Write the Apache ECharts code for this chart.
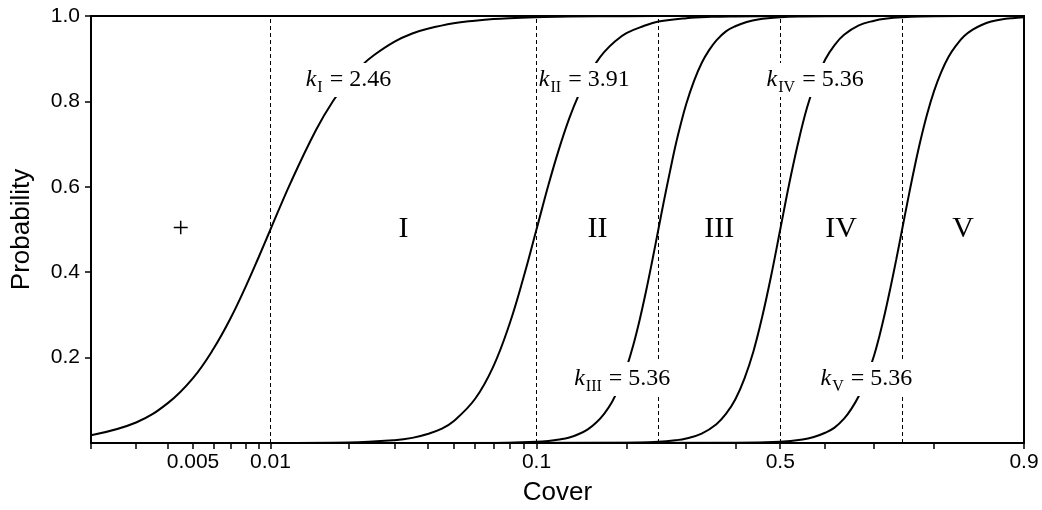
<!DOCTYPE html>
<html>
<head>
<meta charset="utf-8">
<title>Cover classes</title>
<script src="https://cdn.jsdelivr.net/npm/echarts@6/dist/echarts.min.js"></script>
<style>
  html, body { margin: 0; padding: 0; background: #fff; }
  #chart { width: 1042px; height: 510px; }
</style>
</head>
<body>
<div id="chart"></div>
<script>
// class limits (dashed lines) and class names
var classBounds = [0.002, 0.01, 0.1, 0.25, 0.5, 0.75, 0.9]
var classNames = ['+', 'I', 'II', 'III', 'IV', 'V']

// ticks
var xTicks = [0.002, 0.003, 0.004, 0.005, 0.006, 0.007, 0.008, 0.009,
  0.01, 0.02, 0.03, 0.04, 0.05, 0.06, 0.07, 0.08, 0.09,
  0.1, 0.2, 0.3, 0.4, 0.5, 0.6, 0.7, 0.8, 0.9]
var xTickLabels = ['0.005', '0.01', '0.1', '0.5', '0.9']
var yTickLabels = [0.2, 0.4, 0.6, 0.8, 1.0]

// slope labels and where they sit on the curves [cover, probability]
var kNames = ['I', 'II', 'III', 'IV', 'V']
var kValues = ['2.46', '3.91', '5.36', '5.36', '5.36']
var kLabelAt = [[0.02, 0.85], [0.146, 0.85], [0.194, 0.15], [0.578, 0.85], [0.685, 0.15]]

// curves: [cover, probability]
var curveI = [[0.002, 0.018], [0.003, 0.048], [0.004, 0.094], [0.005, 0.152], [0.006, 0.220],
  [0.007, 0.292], [0.008, 0.365], [0.009, 0.435], [0.01, 0.5], [0.012, 0.611], [0.015, 0.733],
  [0.0175, 0.802], [0.02, 0.849], [0.0225, 0.884], [0.025, 0.908], [0.03, 0.940], [0.035, 0.959],
  [0.04, 0.970], [0.05, 0.983], [0.06, 0.989], [0.07, 0.993], [0.08, 0.995], [0.1, 0.997],
  [0.13, 0.9987], [0.2, 0.9996], [0.3, 0.9999], [0.4, 1], [0.9, 1]]
var curveII = [[0.002, 0], [0.01, 0.0001], [0.02, 0.0013], [0.03, 0.0067], [0.035, 0.012],
  [0.04, 0.021], [0.045, 0.033], [0.05, 0.051], [0.06, 0.103], [0.07, 0.179], [0.08, 0.277],
  [0.09, 0.388], [0.1, 0.5], [0.11, 0.603], [0.12, 0.690], [0.13, 0.761], [0.14, 0.816],
  [0.15, 0.859], [0.16, 0.891], [0.17, 0.916], [0.185, 0.942], [0.2, 0.960], [0.225, 0.976],
  [0.25, 0.987], [0.3, 0.995], [0.35, 0.998], [0.4, 0.999], [0.5, 0.9998], [0.9, 1]]
var curveIII = [[0.002, 0], [0.05, 0], [0.08, 0.0008], [0.1, 0.0028], [0.11, 0.0049], [0.12, 0.0082],
  [0.13, 0.013], [0.14, 0.021], [0.15, 0.032], [0.16, 0.048], [0.17, 0.069], [0.18, 0.096],
  [0.19, 0.132], [0.2, 0.176], [0.21, 0.229], [0.22, 0.290], [0.23, 0.357], [0.24, 0.428],
  [0.25, 0.5], [0.26, 0.570], [0.27, 0.635], [0.28, 0.696], [0.29, 0.748], [0.3, 0.794],
  [0.315, 0.848], [0.33, 0.890], [0.345, 0.920], [0.36, 0.943], [0.38, 0.964], [0.4, 0.976],
  [0.425, 0.986], [0.45, 0.992], [0.5, 0.997], [0.55, 0.9990], [0.6, 0.9997], [0.9, 1]]
var curveIV = [[0.002, 0], [0.2, 0.0006], [0.25, 0.0028], [0.28, 0.0064], [0.3, 0.0106], [0.33, 0.022],
  [0.36, 0.044], [0.38, 0.068], [0.4, 0.102], [0.42, 0.151], [0.44, 0.215], [0.46, 0.298],
  [0.48, 0.394], [0.5, 0.5], [0.52, 0.606], [0.54, 0.702], [0.56, 0.785], [0.58, 0.849],
  [0.6, 0.898], [0.62, 0.932], [0.64, 0.956], [0.67, 0.978], [0.7, 0.989], [0.72, 0.9936],
  [0.75, 0.997], [0.8, 0.9994], [0.9, 1]]
var curveV = [[0.002, 0], [0.4, 0.0003], [0.5, 0.0028], [0.55, 0.0081], [0.575, 0.014], [0.6, 0.024],
  [0.62, 0.036], [0.64, 0.057], [0.655, 0.080], [0.67, 0.110], [0.685, 0.152], [0.7, 0.206],
  [0.71, 0.252], [0.72, 0.305], [0.73, 0.365], [0.74, 0.430], [0.75, 0.5], [0.76, 0.572],
  [0.77, 0.643], [0.78, 0.710], [0.79, 0.771], [0.8, 0.824], [0.81, 0.868], [0.82, 0.904],
  [0.83, 0.931], [0.84, 0.953], [0.85, 0.968], [0.86, 0.979], [0.87, 0.987], [0.88, 0.992],
  [0.89, 0.995], [0.9, 0.997]]

var sans = "'Liberation Sans', Arial, sans-serif"
var serif = "'Liberation Serif', 'Times New Roman', serif"

// x axis is on a logit scale
function logit(p) {
  return Math.log(p / (1 - p))
}

var chart = echarts.init(document.getElementById('chart'))

var curveSeries = [curveI, curveII, curveIII, curveIV, curveV].map(function(c) {
  return {
    type: 'line',
    data: c.map(function(d) { return [logit(d[0]), d[1]] }),
    smooth: 0.4,
    showSymbol: false,
    silent: true,
    z: 3,
    lineStyle: { color: '#000', width: 2 }
  }
})

// dashed class limits
curveSeries[0].markLine = {
  silent: true,
  symbol: ['none', 'none'],
  label: { show: false },
  lineStyle: { color: '#000', width: 1, type: [4, 3] },
  data: classBounds.slice(1, -1).map(function(b) { return { xAxis: logit(b) } })
}

var classSeries = {
  type: 'scatter',
  symbolSize: 0,
  silent: true,
  z: 4,
  itemStyle: { color: 'rgba(0,0,0,0)', opacity: 1 },
  label: {
    show: true,
    position: 'inside',
    formatter: '{b}',
    color: '#000',
    fontFamily: serif,
    fontSize: 30
  },
  data: classNames.map(function(n, i) {
    var mid = (logit(classBounds[i]) + logit(classBounds[i + 1])) / 2
    return { name: n, value: [mid, 0.5] }
  })
}

var kSeries = {
  type: 'scatter',
  symbolSize: 0,
  silent: true,
  z: 10,
  itemStyle: { color: 'rgba(0,0,0,0)', opacity: 1 },
  label: {
    show: true,
    position: 'inside',
    backgroundColor: '#fff',
    padding: [1, 1],
    formatter: function(p) {
      return '{k|k}{s|' + kNames[p.dataIndex] + '}{t| = ' + kValues[p.dataIndex] + '}'
    },
    rich: {
      k: { fontFamily: serif, fontStyle: 'italic', fontSize: 24, color: '#000', lineHeight: 32, verticalAlign: 'middle' },
      s: { fontFamily: serif, fontSize: 16, color: '#000', lineHeight: 16, verticalAlign: 'bottom', padding: [0, 1, 0, 1] },
      t: { fontFamily: serif, fontSize: 24, color: '#000', lineHeight: 32, verticalAlign: 'middle' }
    }
  },
  data: kLabelAt.map(function(d) { return [logit(d[0]), d[1]] })
}

chart.setOption({
  animation: false,
  backgroundColor: '#fff',
  grid: {
    left: 91, right: 18, top: 16, bottom: 67,
    show: true,
    borderColor: '#000',
    borderWidth: 2,
    outerBoundsMode: 'none'
  },
  xAxis: {
    type: 'value',
    min: logit(classBounds[0]),
    max: logit(classBounds[classBounds.length - 1]),
    name: 'Cover',
    nameLocation: 'middle',
    nameGap: 37,
    nameTextStyle: { fontFamily: sans, fontSize: 26, color: '#000' },
    splitLine: { show: false },
    axisLine: { onZero: false, lineStyle: { color: '#000', width: 2 } },
    axisTick: {
      customValues: xTicks.map(logit),
      length: 6,
      lineStyle: { color: '#000', width: 1.5 }
    },
    axisLabel: {
      customValues: xTickLabels.map(function(s) { return logit(+s) }),
      formatter: function(v) {
        for (var i = 0; i < xTickLabels.length; i++) {
          if (Math.abs(logit(+xTickLabels[i]) - v) < 1e-6) return xTickLabels[i]
        }
        return ''
      },
      margin: 9,
      fontFamily: sans,
      fontSize: 21,
      color: '#000'
    }
  },
  yAxis: {
    type: 'value',
    min: 0,
    max: 1,
    interval: 0.2,
    name: 'Probability',
    nameLocation: 'middle',
    nameGap: 56,
    nameTextStyle: { fontFamily: sans, fontSize: 26, color: '#000' },
    splitLine: { show: false },
    axisLine: { onZero: false, lineStyle: { color: '#000', width: 2 } },
    axisTick: {
      customValues: yTickLabels,
      length: 6,
      lineStyle: { color: '#000', width: 1.5 }
    },
    axisLabel: {
      customValues: yTickLabels,
      formatter: function(v) { return v.toFixed(1) },
      margin: 11,
      fontFamily: sans,
      fontSize: 21,
      color: '#000'
    }
  },
  series: curveSeries.concat([classSeries, kSeries])
})
</script>
</body>
</html>
